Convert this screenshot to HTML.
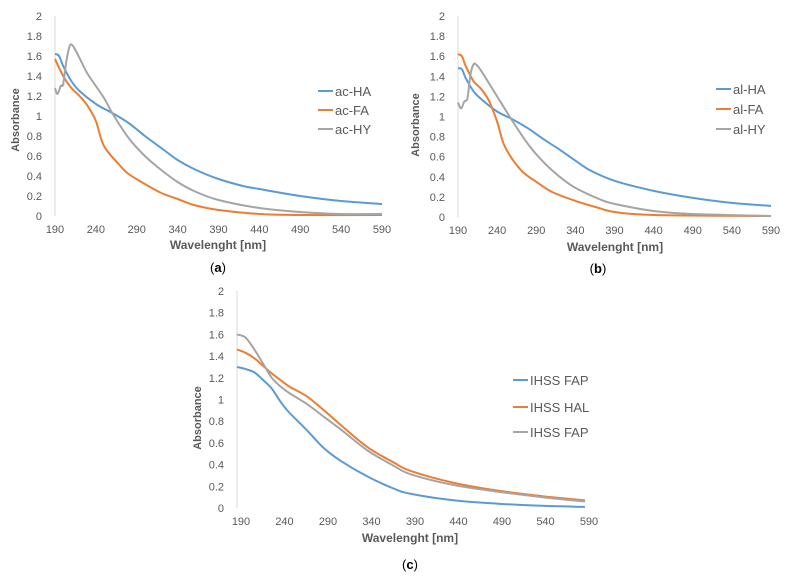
<!DOCTYPE html>
<html><head><meta charset="utf-8"><style>
body{margin:0;background:#fff;font-family:"Liberation Sans",sans-serif}
svg{display:block}
text{font-family:"Liberation Sans",sans-serif}
</style></head><body>
<svg id="s" width="791" height="580" viewBox="0 0 791 580"></svg>
<script>
const ticksY=[0,0.2,0.4,0.6,0.8,1,1.2,1.4,1.6,1.8,2];
const tickYLabels=["0","0.2","0.4","0.6","0.8","1","1.2","1.4","1.6","1.8","2"];
const ticksX=[190,240,290,340,390,440,490,540,590];
const colors=["#5b9bd5","#ed7d31","#a5a5a5"];
// chart a
const aX_HA=[190,195,200,210,220,240,260,280,300,320,340,360,390,420,440,490,540,590];
const aY_HA=[1.62,1.6,1.5,1.35,1.25,1.12,1.03,0.93,0.8,0.68,0.56,0.47,0.37,0.30,0.27,0.2,0.15,0.12];
const aX_FA=[190,200,210,220,230,240,250,270,280,300,320,340,360,390,440,490,590];
const aY_FA=[1.57,1.4,1.28,1.2,1.1,0.95,0.7,0.5,0.42,0.32,0.23,0.17,0.11,0.06,0.02,0.01,0.01];
const aX_HY=[190,193,197,200,204,208,212,220,230,250,260,280,300,320,340,360,390,440,490,540,590];
const aY_HY=[1.28,1.22,1.3,1.32,1.55,1.7,1.7,1.58,1.42,1.18,1.03,0.78,0.6,0.46,0.34,0.25,0.16,0.08,0.04,0.02,0.02];
// chart b
const bX_HA=[190,195,200,210,220,240,260,280,300,320,340,360,390,440,490,540,590];
const bY_HA=[1.48,1.47,1.38,1.25,1.17,1.05,0.97,0.88,0.77,0.67,0.56,0.46,0.36,0.26,0.19,0.14,0.11];
const bX_FA=[190,195,200,210,220,230,240,250,270,290,310,340,370,390,440,590];
const bY_FA=[1.62,1.6,1.5,1.35,1.27,1.15,0.95,0.7,0.47,0.35,0.25,0.16,0.09,0.05,0.02,0.01];
const bX_HY=[190,194,198,202,206,210,214,220,240,260,280,300,320,340,370,390,440,490,590];
const bY_HY=[1.14,1.08,1.15,1.18,1.42,1.52,1.51,1.45,1.2,0.95,0.72,0.54,0.4,0.29,0.18,0.13,0.06,0.03,0.01];
// chart c
const cX=[190,200,210,220,230,240,250,270,290,310,340,370,390,440,490,540,590];
const cY_FAP=[1.3,1.28,1.25,1.18,1.1,0.98,0.88,0.72,0.55,0.43,0.29,0.18,0.13,0.07,0.04,0.02,0.01];
const cY_HAL=[1.46,1.43,1.38,1.31,1.24,1.18,1.12,1.03,0.9,0.76,0.56,0.42,0.34,0.23,0.16,0.11,0.07];
const cY_FAP2=[1.6,1.57,1.46,1.33,1.2,1.12,1.06,0.96,0.84,0.72,0.53,0.39,0.31,0.21,0.15,0.1,0.06];

const NS="http://www.w3.org/2000/svg";
const svg=document.getElementById('s');
function mk(tag,attrs,parent,txt){const e=document.createElementNS(NS,tag);for(const k in attrs)e.setAttribute(k,attrs[k]);if(txt!==undefined)e.textContent=txt;(parent||svg).appendChild(e);return e;}
function smooth(P){
  let d='M'+P[0][0].toFixed(1)+','+P[0][1].toFixed(1);
  for(let i=0;i<P.length-1;i++){
    const p0=P[i-1]||P[i],p1=P[i],p2=P[i+1],p3=P[i+2]||P[i+1];
    const c1=[p1[0]+(p2[0]-p0[0])/6,p1[1]+(p2[1]-p0[1])/6];
    const c2=[p2[0]-(p3[0]-p1[0])/6,p2[1]-(p3[1]-p1[1])/6];
    d+=' C'+c1.map(v=>v.toFixed(1)).join(',')+' '+c2.map(v=>v.toFixed(1)).join(',')+' '+p2[0].toFixed(1)+','+p2[1].toFixed(1);
  }
  return d;
}
function chart(id,cfg){
  const g=mk('g',{},svg);
  
  
  const sx=v=>cfg.x0+(v-190)/(590-190)*(cfg.x1-cfg.x0);
  const sy=v=>cfg.y0-v/2*(cfg.y0-cfg.y2);
  const ax=mk('line',{x1:cfg.x0,y1:cfg.y2,x2:cfg.x0,y2:cfg.y0,stroke:'#d9d9d9','stroke-width':1},g);
  
  
  ticksY.forEach((t,i)=>{const e=mk('text',{x:cfg.x0-13,y:sy(t)+4,'text-anchor':'end','font-size':11,fill:'#595959'},g,tickYLabels[i]);
    
    });
  ticksX.forEach(t=>{const e=mk('text',{x:sx(t)+cfg.lx,y:cfg.y0+17,'text-anchor':'middle','font-size':11,fill:'#595959'},g,String(t));
    
    });
  const yt=mk('text',{x:cfg.ytx,y:cfg.yty,'text-anchor':'middle','font-size':11,'font-weight':'bold',fill:'#595959',transform:`rotate(-90 ${cfg.ytx} ${cfg.yty})`},g,'Absorbance');
  
  
  const xt=mk('text',{x:cfg.xtx,y:cfg.xty,'text-anchor':'middle','font-size':12,'font-weight':'bold',fill:'#595959'},g,'Wavelenght [nm]');
  
  
  cfg.series.forEach((s,i)=>{
    const P=s.xs.map((x,j)=>[sx(x),sy(s.ys[j])]);
    const p=mk('path',{d:smooth(P),fill:'none',stroke:colors[i],'stroke-width':2,'stroke-linejoin':'round'},g);
    
    
    const ly=cfg.legY[i];
    const l=mk('line',{x1:cfg.legX,y1:ly,x2:cfg.legX+15,y2:ly,stroke:colors[i],'stroke-width':2},g);
    
    
    const lt=mk('text',{x:cfg.legX+17,y:ly+5,'font-size':cfg.legFs,fill:'#595959'},g,s.name);
    
    
  });
  const cap=mk('text',{x:cfg.capx,y:cfg.capy,'text-anchor':'middle','font-size':13,'font-family':'Liberation Serif',fill:'#000'},g);
  
  
  cap.innerHTML='(<tspan font-weight="bold">'+cfg.cap+'</tspan>)';
}
chart('chart-a',{x0:55,x1:382,y0:216,y2:16,lx:0,ytx:19,yty:120,xtx:218,xty:249,legX:318,legY:[91,110,129],legFs:13,capx:218,capy:272,cap:'a',
  series:[{name:'ac-HA',xs:aX_HA,ys:aY_HA},{name:'ac-FA',xs:aX_FA,ys:aY_FA},{name:'ac-HY',xs:aX_HY,ys:aY_HY}]});
chart('chart-b',{x0:458,x1:771,y0:217,y2:16,lx:0,ytx:419,yty:125,xtx:615,xty:251,legX:716,legY:[89,109,129],legFs:13,capx:598,capy:273,cap:'b',
  series:[{name:'al-HA',xs:bX_HA,ys:bY_HA},{name:'al-FA',xs:bX_FA,ys:bY_FA},{name:'al-HY',xs:bX_HY,ys:bY_HY}]});
chart('chart-c',{x0:237,x1:585,y0:508,y2:291,lx:4,ytx:201,yty:418,xtx:410,xty:542,legX:513,legY:[380,407,432],legFs:13,capx:410,capy:569,cap:'c',
  series:[{name:'IHSS FAP',xs:cX,ys:cY_FAP},{name:'IHSS HAL',xs:cX,ys:cY_HAL},{name:'IHSS FAP',xs:cX,ys:cY_FAP2}]});
</script>
</body></html>
